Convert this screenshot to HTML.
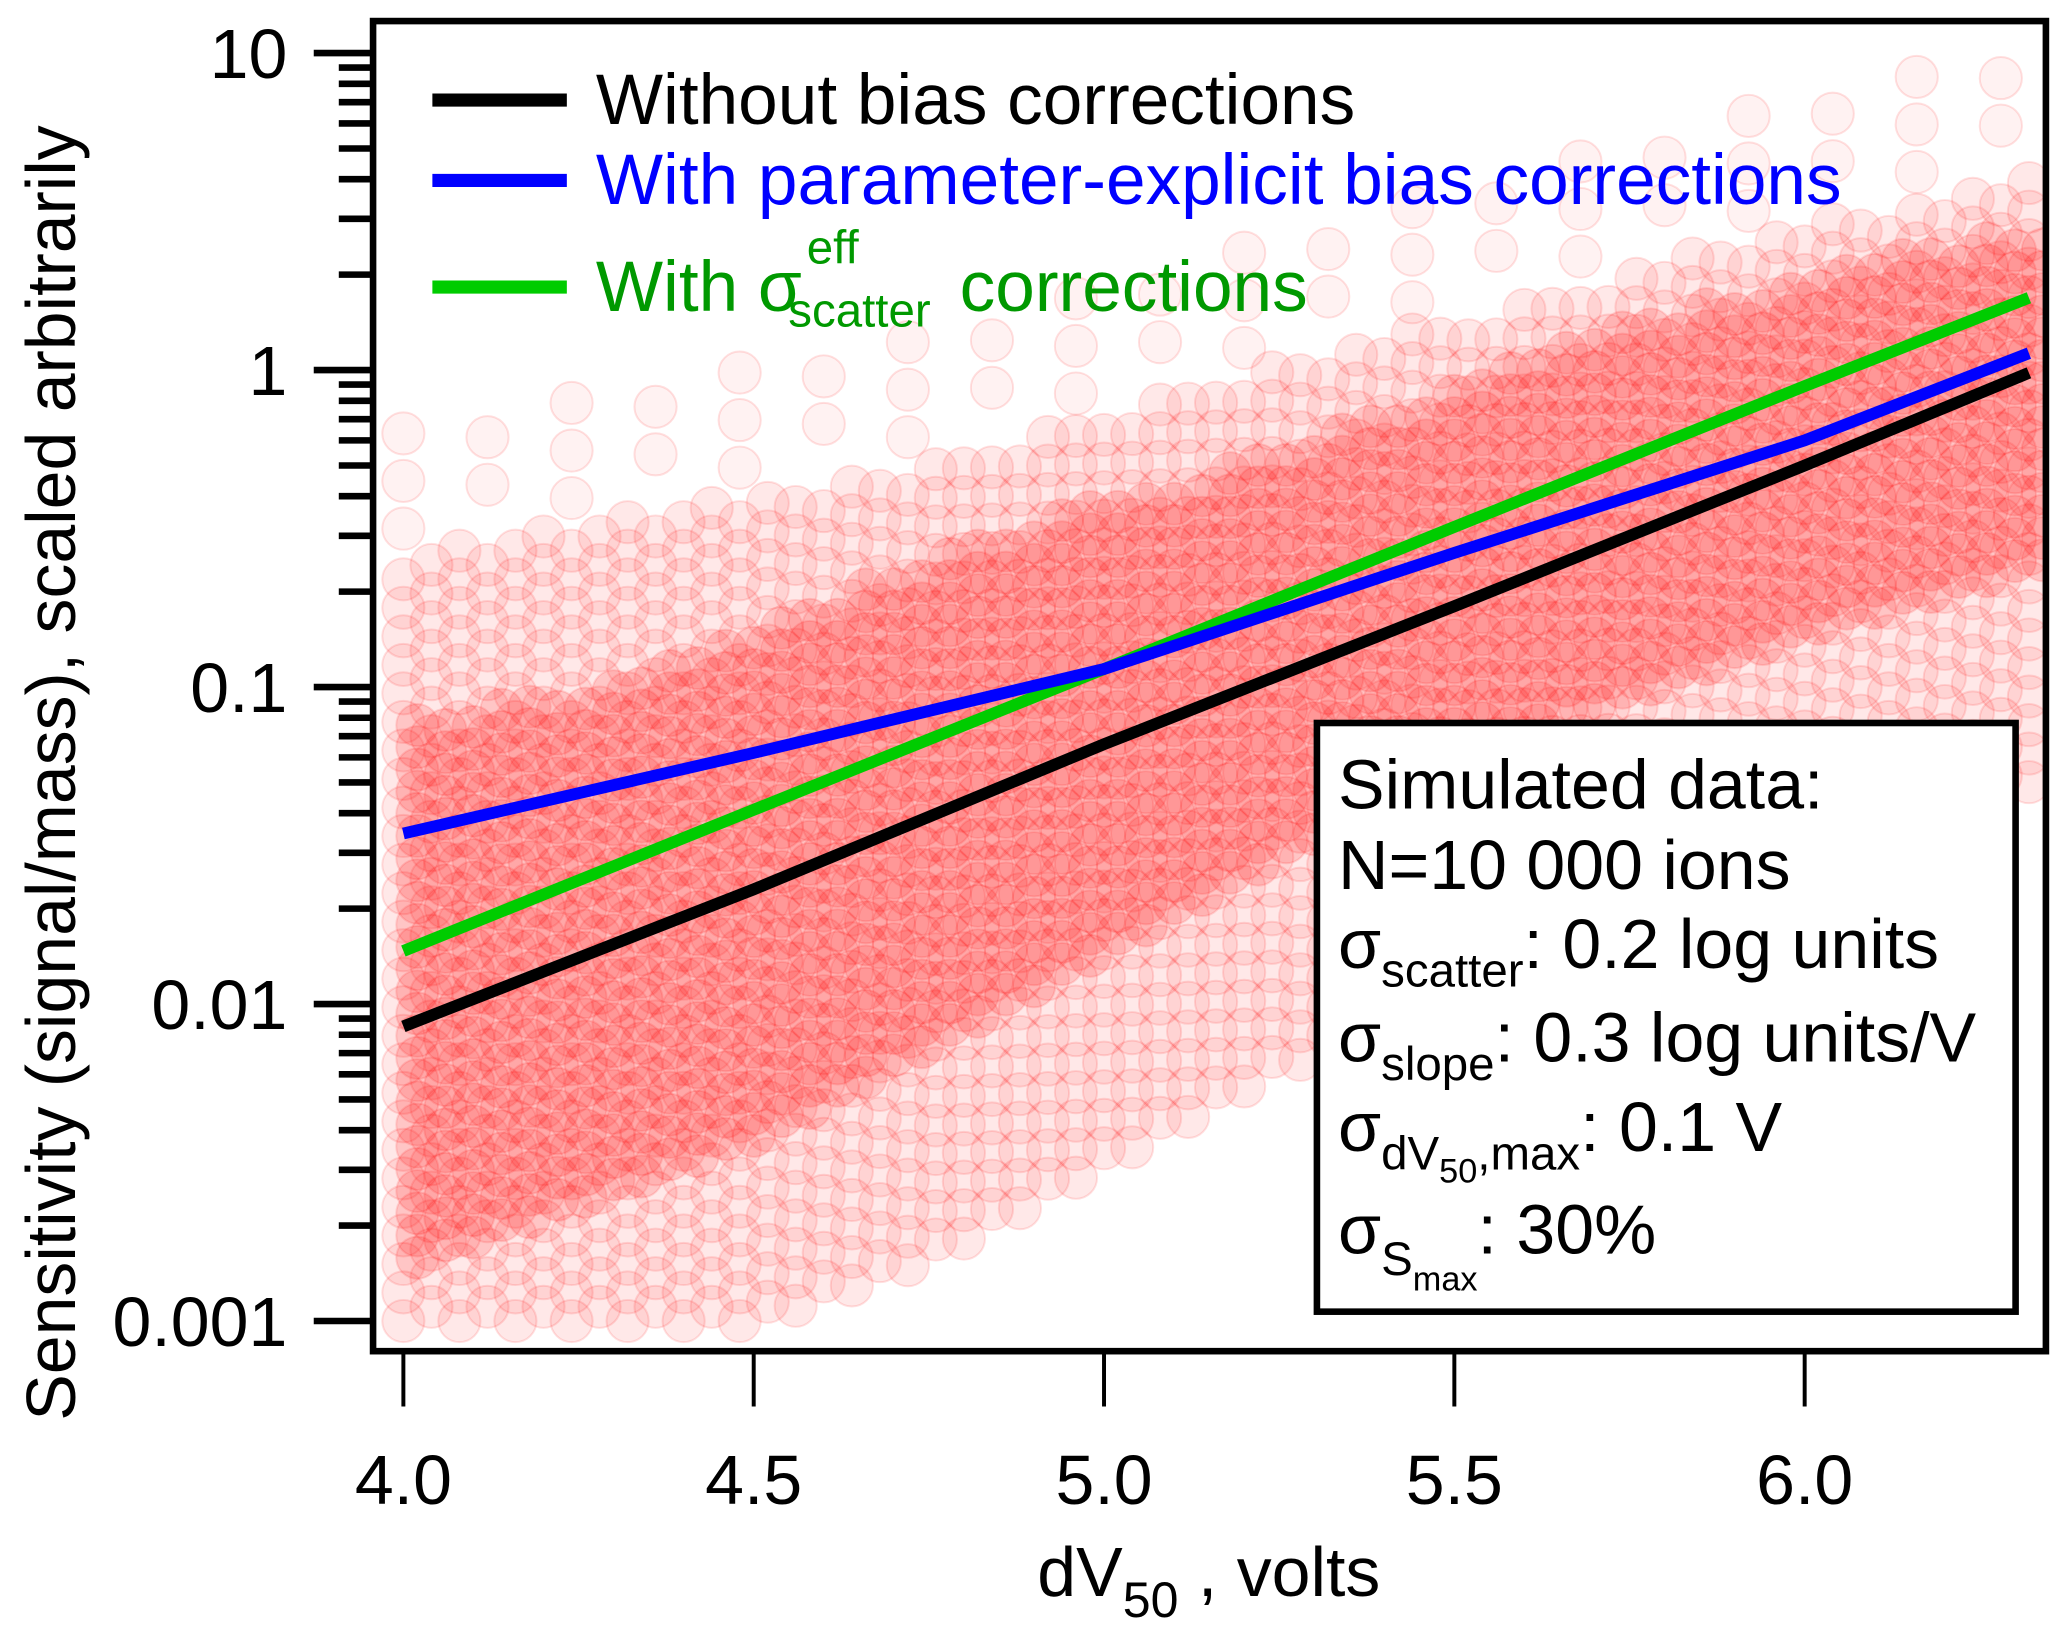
<!DOCTYPE html>
<html><head><meta charset="utf-8"><style>
html,body{margin:0;padding:0;background:#fff;}
svg{display:block;font-family:"Liberation Sans",Arial,sans-serif;}
</style></head><body>
<svg id="chart" width="2067" height="1633" viewBox="0 0 1568 1240" preserveAspectRatio="none" xmlns="http://www.w3.org/2000/svg">
<defs><clipPath id="plotclip"><rect x="285" y="18" width="1265" height="1006"/></clipPath></defs>
<g id="scatter" clip-path="url(#plotclip)"></g>
<g id="lines" clip-path="url(#plotclip)"></g>
<rect x="283" y="16" width="1269" height="1010" fill="none" stroke="#000" stroke-width="5"/>
<g id="yticks"></g>
<g id="xticks"></g>
<text transform="translate(57,587) rotate(-90)" text-anchor="middle" font-size="53">Sensitivity (signal/mass), scaled arbitrarily</text>
<text x="917" y="1212" text-anchor="middle" font-size="53">dV<tspan font-size="38" dy="16">50</tspan><tspan dy="-16"> , volts</tspan></text>
<g>
<line x1="328" y1="76" x2="430" y2="76" stroke="#000" stroke-width="10"/>
<text x="452" y="94" font-size="54" fill="#000">Without bias corrections</text>
<line x1="328" y1="137" x2="430" y2="137" stroke="#0000ff" stroke-width="10"/>
<text x="452" y="155" font-size="54" fill="#0000ff">With parameter-explicit bias corrections</text>
<line x1="328" y1="218" x2="430" y2="218" stroke="#00cc00" stroke-width="10"/>
<text font-size="54" fill="#009900"><tspan x="452" y="236">With σ</tspan><tspan x="612" y="200" font-size="36">eff</tspan><tspan x="598" y="248" font-size="36">scatter</tspan><tspan x="728" y="236">corrections</tspan></text>
</g>
<g>
<rect x="999" y="549" width="530" height="447" fill="#fff" stroke="#000" stroke-width="5"/>
<text x="1015" y="614" font-size="53">Simulated data:</text>
<text x="1015" y="675" font-size="53">N=10 000 ions</text>
<text x="1015" y="735" font-size="53">σ<tspan font-size="36" dy="14">scatter</tspan><tspan dy="-14">: 0.2 log units</tspan></text>
<text x="1015" y="806" font-size="53">σ<tspan font-size="36" dy="14">slope</tspan><tspan dy="-14">: 0.3 log units/V</tspan></text>
<text x="1015" y="874" font-size="53">σ<tspan font-size="36" dy="14">dV</tspan><tspan font-size="26" dy="10">50</tspan><tspan font-size="36" dy="-10">,max</tspan><tspan dy="-14">: 0.1 V</tspan></text>
<text x="1015" y="952" font-size="53">σ<tspan font-size="36" dy="16">S</tspan><tspan font-size="26" dy="12">max</tspan><tspan dy="-28">: 30%</tspan></text>
</g>
</svg>
<script>
// data
const xTicks = [4.0, 4.5, 5.0, 5.5, 6.0];
const xTickLabels = ["4.0", "4.5", "5.0", "5.5", "6.0"];
const yDecades = [0.001, 0.01, 0.1, 1, 10];
const yTickLabels = ["0.001", "0.01", "0.1", "1", "10"];
const curveX = [4.0, 4.5, 5.0, 5.5, 6.0, 6.32];
const blackVals = [0.0085, 0.023, 0.066, 0.18, 0.50, 0.98];
const blueVals = [0.0345, 0.062, 0.114, 0.265, 0.60, 1.13];
const greenVals = [0.0147, 0.041, 0.114, 0.32, 0.89, 1.69];
// scatter cloud envelope (log10 of sensitivity)
const cloudX = [4.0, 4.25, 4.5, 4.75, 5.0, 5.25, 5.5, 5.75, 6.0, 6.32];
const denseLo = [-3.0, -3.0, -3.0, -2.8, -2.5, -2.2, -2.0, -1.7, -1.5, -1.3];
const denseHi = [-0.6, -0.5, -0.4, -0.3, -0.15, 0.0, 0.15, 0.3, 0.45, 0.6];
const coreLo = [-2.8, -2.6, -2.4, -2.1, -1.8, -1.5, -1.2, -1.0, -0.8, -0.6];
const coreHi = [-1.1, -1.0, -0.8, -0.6, -0.4, -0.25, -0.05, 0.15, 0.3, 0.45];

const NS = "http://www.w3.org/2000/svg";
function xs(v){ return 306 + (v - 4.0) * 531.5; }
function ys(v){ return 281 - 240.7 * Math.log10(v); }
function ysLog(l){ return 281 - 240.7 * l; }
function interp(arr, x){
  for (let i = 0; i < cloudX.length - 1; i++){
    if (x <= cloudX[i+1]){ const t = (x - cloudX[i]) / (cloudX[i+1] - cloudX[i]); return arr[i] + t * (arr[i+1] - arr[i]); }
  }
  return arr[arr.length-1];
}
const sc = document.getElementById('scatter');
function dot(cx, cy, op){
  const c = document.createElementNS(NS, 'circle');
  
  
  c.setAttribute('cx', cx.toFixed(1)); c.setAttribute('cy', cy.toFixed(1)); c.setAttribute('r', 16);
  c.setAttribute('fill', 'rgba(255,0,0,' + op + ')');
  c.setAttribute('stroke', 'rgba(255,0,0,0.12)'); c.setAttribute('stroke-width', 1.5);
  sc.appendChild(c);
}
let col = 0;
for (let x = 4.0; x <= 6.33; x += 0.04, col++){
  const off = (col % 2) * 0.045;
  const lo = interp(denseLo, x), hi = interp(denseHi, x);
  for (let l = lo + off; l <= hi; l += 0.09) dot(xs(x), ysLog(l), 0.09);
  const clo = interp(coreLo, x), chi = interp(coreHi, x);
  for (let l = clo + off / 2; l <= chi; l += 0.07) dot(xs(x + 0.02), ysLog(l), 0.15);
  for (let l = hi + 0.1 + off * 2; l <= hi + 0.4; l += 0.15) if (col % 3 === 0) dot(xs(x), ysLog(l), 0.05);
}
const lg = document.getElementById('lines');
function curve(vals, color, name){
  const p = document.createElementNS(NS, 'polyline');
  
  
  p.setAttribute('points', curveX.map((x, i) => xs(x).toFixed(1) + ',' + ys(vals[i]).toFixed(1)).join(' '));
  p.setAttribute('fill', 'none'); p.setAttribute('stroke', color); p.setAttribute('stroke-width', 9);
  p.setAttribute('stroke-linejoin', 'round');
  lg.appendChild(p);
}
curve(greenVals, '#00cc00', 'green-line');
curve(blueVals, '#0000ff', 'blue-line');
curve(blackVals, '#000000', 'black-line');
const yt = document.getElementById('yticks');
function ln(g, x1, y1, x2, y2, w, name){
  const l = document.createElementNS(NS, 'line');
  
  
  l.setAttribute('x1', x1); l.setAttribute('y1', y1); l.setAttribute('x2', x2); l.setAttribute('y2', y2);
  l.setAttribute('stroke', '#000'); l.setAttribute('stroke-width', w);
  g.appendChild(l);
}
function txt(g, x, y, s, anchor, name){
  const t = document.createElementNS(NS, 'text');
  
  
  t.setAttribute('x', x); t.setAttribute('y', y); t.setAttribute('font-size', 53); t.setAttribute('text-anchor', anchor);
  t.textContent = s; g.appendChild(t);
}
yDecades.forEach((d, i) => {
  const y = ys(d);
  ln(yt, 238, y, 283, y, 5, 'y-major-tick');
  txt(yt, 218, y + 19, yTickLabels[i], 'end', 'y-tick-label');
  if (i < yDecades.length - 1) for (let m = 2; m <= 9; m++) ln(yt, 257, ys(d * m), 283, ys(d * m), 5, 'y-minor-tick');
});
const xt = document.getElementById('xticks');
xTicks.forEach((v, i) => {
  const x = xs(v);
  ln(xt, x, 1028, x, 1068, 3, 'x-tick');
  txt(xt, x, 1142, xTickLabels[i], 'middle', 'x-tick-label');
});
</script>
</body></html>
